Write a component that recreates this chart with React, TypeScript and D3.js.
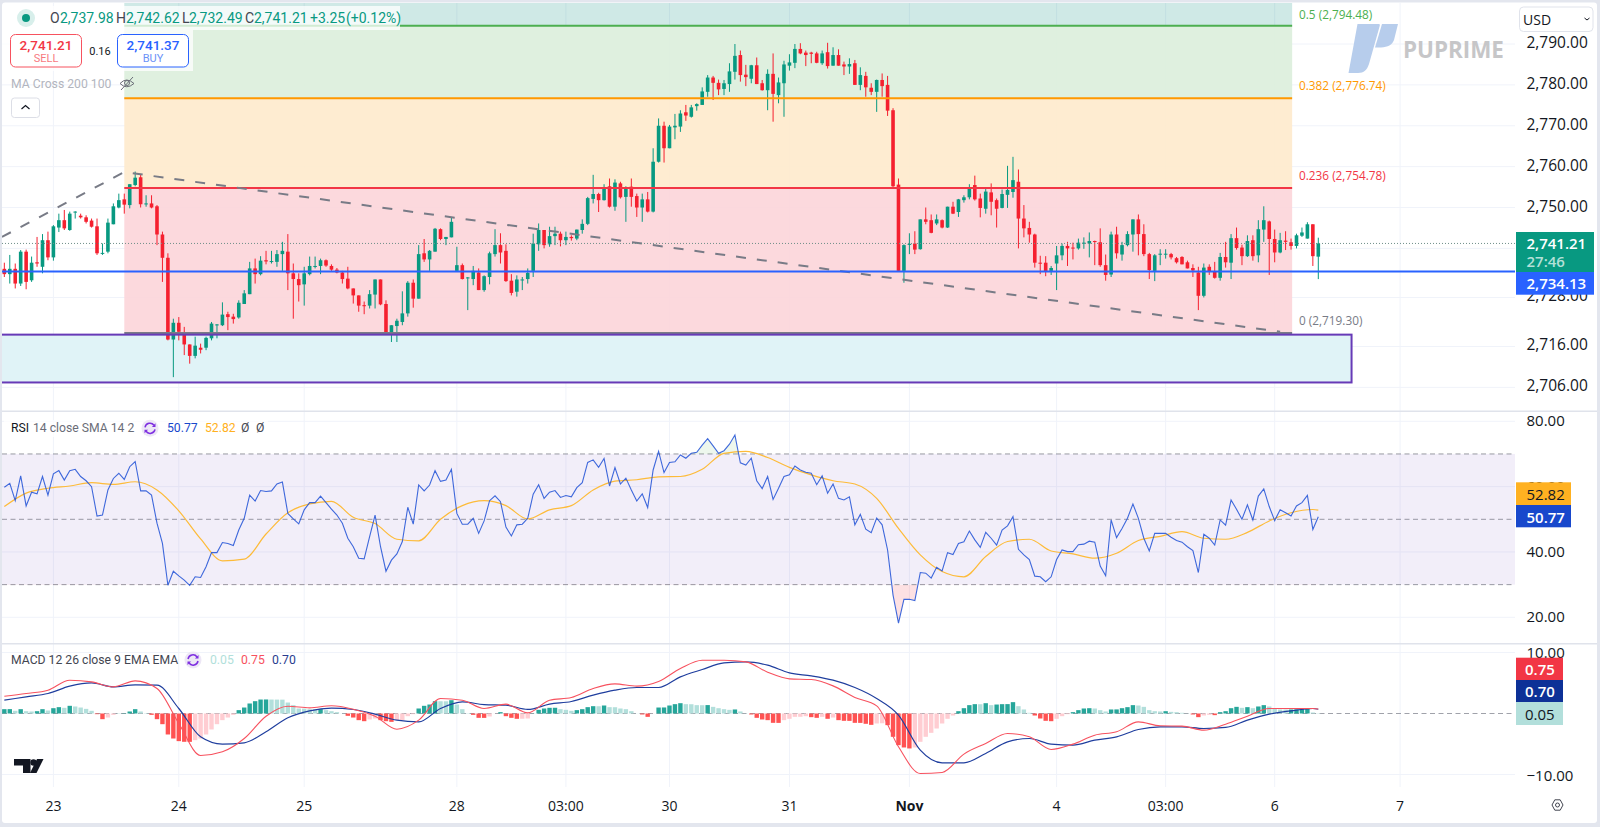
import React from "react";
import * as d3 from "d3";

// hourly XAUUSD bars
const opens = [
  2735.0,2733.7,2735.0,2731.4,2739.2,2732.2,2736.6,2735.5,2742.0,2737.8,
  2745.1,2746.9,2744.5,2748.9,2748.0,2747.6,2746.8,2745.4,2738.8,2739.2,
  2745.9,2750.0,2752.0,2750.6,2755.5,2757.4,2750.8,2751.0,2750.3,2743.4,
  2737.7,2717.7,2721.8,2718.8,2716.5,2713.7,2715.7,2715.7,2718.0,2721.2,
  2721.2,2723.9,2723.3,2723.1,2726.4,2728.8,2735.1,2733.7,2737.1,2736.7,
  2736.7,2738.6,2739.2,2733.9,2732.5,2731.2,2733.7,2735.6,2735.7,2737.1,
  2735.7,2734.8,2734.1,2732.6,2730.2,2728.5,2726.1,2726.0,2728.7,2732.4,
  2726.4,2719.2,2721.0,2722.0,2724.1,2731.6,2727.7,2738.8,2737.3,2739.2,
  2744.7,2742.3,2742.7,2734.5,2735.9,2732.7,2732.5,2734.1,2729.8,2733.0,
  2738.6,2740.8,2739.4,2732.1,2729.4,2732.2,2732.5,2734.5,2741.0,2744.5,
  2741.0,2743.0,2743.6,2742.0,2742.8,2742.4,2744.5,2746.0,2752.1,2753.3,
  2751.8,2755.2,2750.2,2755.9,2752.6,2755.1,2752.8,2750.0,2752.0,2749.0,
  2761.2,2770.0,2764.5,2769.6,2769.8,2773.3,2772.2,2774.8,2775.1,2778.3,
  2781.8,2780.5,2779.0,2780.2,2783.2,2787.3,2782.5,2781.5,2784.8,2780.4,
  2778.7,2782.7,2777.5,2780.4,2784.7,2785.4,2788.8,2787.9,2787.9,2787.7,
  2785.3,2788.0,2784.7,2787.3,2785.0,2784.5,2785.3,2780.0,2782.2,2779.3,
  2778.3,2781.2,2780.0,2773.8,2755.6,2734.5,2741.0,2741.2,2739.8,2747.1,
  2746.9,2746.1,2746.9,2745.1,2750.2,2748.9,2751.8,2752.5,2755.5,2752.2,
  2749.7,2753.7,2751.8,2749.9,2753.1,2753.8,2756.3,2747.3,2745.0,2743.4,
  2736.5,2736.5,2734.5,2736.3,2738.3,2740.6,2740.2,2740.0,2741.2,2741.2,
  2741.8,2741.5,2735.9,2733.6,2743.4,2738.5,2740.8,2743.4,2747.1,2743.5,
  2738.6,2734.5,2738.5,2738.5,2738.6,2737.6,2737.9,2736.6,2735.2,2734.1,
  2728.4,2735.5,2734.3,2732.8,2737.9,2736.5,2742.5,2740.2,2738.1,2742.0,
  2738.3,2744.6,2746.6,2742.3,2739.0,2741.9,2741.5,2740.6,2743.1,2742.4,
  2745.9,2737.98,
];
const highs = [
  2736.5,2738.4,2736.3,2739.6,2739.7,2738.0,2742.8,2743.5,2744.1,2745.7,
  2748.5,2749.4,2749.0,2749.1,2748.5,2748.1,2747.3,2747.3,2741.2,2747.3,
  2751.0,2753.4,2753.4,2755.7,2758.8,2758.0,2753.0,2753.0,2750.6,2744.1,
  2738.8,2722.8,2723.2,2720.8,2716.5,2718.4,2716.7,2718.4,2722.0,2721.5,
  2726.8,2724.5,2724.0,2727.3,2729.8,2736.7,2737.5,2738.1,2739.4,2739.4,
  2739.6,2741.6,2743.5,2736.3,2733.9,2735.5,2738.0,2738.0,2737.5,2737.3,
  2736.1,2735.2,2734.5,2735.5,2730.2,2728.5,2727.0,2729.8,2732.4,2732.4,
  2727.3,2721.2,2722.8,2729.5,2732.0,2732.4,2740.8,2742.3,2739.6,2745.0,
  2744.9,2742.8,2747.7,2740.4,2736.3,2733.0,2735.7,2735.1,2733.4,2739.2,
  2744.7,2743.7,2741.0,2733.7,2733.4,2733.0,2735.1,2743.6,2746.1,2744.5,
  2745.3,2745.3,2744.1,2744.1,2743.2,2744.6,2747.1,2752.6,2758.0,2753.6,
  2755.7,2757.1,2756.9,2756.3,2755.2,2757.1,2753.4,2753.4,2753.8,2764.5,
  2771.8,2771.0,2770.2,2772.9,2773.8,2775.1,2775.1,2775.5,2779.4,2782.4,
  2782.2,2781.3,2781.2,2785.3,2790.0,2788.4,2784.9,2784.9,2786.7,2781.2,
  2783.8,2787.7,2781.8,2785.9,2787.5,2790.0,2790.2,2788.4,2788.1,2788.1,
  2788.4,2790.3,2789.2,2788.7,2785.7,2786.5,2786.1,2784.3,2783.2,2780.4,
  2781.3,2782.8,2782.2,2774.3,2757.1,2741.0,2743.7,2744.2,2747.1,2750.0,
  2748.3,2748.3,2747.1,2750.2,2751.4,2752.1,2753.0,2755.7,2757.8,2753.4,
  2754.9,2755.9,2752.2,2754.4,2760.2,2762.4,2759.3,2750.6,2746.5,2743.6,
  2738.2,2738.1,2735.7,2740.6,2741.2,2741.6,2741.4,2742.4,2742.7,2743.9,
  2741.9,2744.9,2738.5,2744.1,2745.3,2741.6,2744.2,2747.1,2748.3,2745.9,
  2738.9,2738.6,2739.8,2739.8,2738.9,2737.9,2738.1,2737.0,2736.1,2735.5,
  2736.3,2736.1,2736.7,2738.9,2741.6,2743.5,2745.1,2740.9,2743.2,2743.2,
  2746.9,2750.3,2746.8,2744.6,2743.8,2744.2,2742.4,2743.6,2745.1,2746.4,
  2745.9,2742.62,
];
const lows = [
  2733.0,2731.4,2730.2,2730.8,2730.0,2731.8,2735.5,2733.9,2737.1,2737.0,
  2744.0,2744.5,2744.3,2747.3,2747.3,2746.1,2745.1,2738.4,2738.4,2738.8,
  2745.9,2749.8,2748.5,2749.8,2755.2,2750.0,2750.2,2749.8,2740.8,2731.8,
  2717.5,2708.5,2717.5,2713.9,2711.8,2713.1,2714.3,2715.1,2717.5,2718.0,
  2721.0,2720.0,2721.6,2722.8,2726.4,2728.8,2731.4,2733.4,2736.1,2736.3,
  2735.5,2734.5,2729.8,2722.8,2727.0,2726.0,2733.4,2735.1,2733.7,2735.5,
  2734.5,2733.9,2731.4,2730.0,2726.5,2724.5,2723.9,2725.3,2725.3,2726.1,
  2719.2,2717.1,2717.1,2721.2,2723.3,2725.5,2727.7,2736.7,2734.5,2739.2,
  2742.0,2740.8,2742.7,2734.3,2732.4,2724.9,2731.0,2729.8,2729.4,2731.2,
  2738.0,2736.3,2731.8,2728.5,2728.2,2729.8,2731.4,2733.0,2739.4,2740.0,
  2740.4,2740.8,2740.5,2740.8,2741.9,2742.0,2743.6,2745.7,2751.0,2748.9,
  2751.7,2750.0,2749.2,2752.2,2746.5,2750.2,2747.7,2746.5,2748.8,2748.8,
  2761.0,2761.0,2764.5,2766.7,2768.5,2771.2,2772.0,2773.7,2775.1,2777.1,
  2776.3,2777.5,2777.5,2778.3,2781.3,2780.8,2779.7,2780.4,2780.2,2778.6,
  2773.8,2771.0,2775.5,2772.2,2783.5,2784.1,2787.5,2784.6,2785.3,2785.3,
  2784.9,2784.0,2784.7,2784.7,2782.4,2782.7,2780.0,2778.7,2777.1,2777.5,
  2773.4,2777.1,2772.4,2754.9,2734.5,2731.6,2738.6,2738.6,2739.7,2745.9,
  2743.7,2745.7,2744.9,2745.0,2748.4,2747.7,2751.2,2752.0,2751.7,2747.6,
  2748.5,2748.1,2745.1,2749.8,2749.9,2752.4,2740.0,2742.7,2741.4,2735.3,
  2733.7,2733.2,2733.5,2729.8,2737.1,2735.7,2737.3,2739.7,2739.9,2737.8,
  2735.9,2735.5,2732.1,2733.0,2737.5,2737.0,2740.5,2739.2,2738.3,2738.1,
  2732.5,2732.0,2735.9,2737.5,2737.3,2736.3,2736.1,2735.1,2733.0,2724.9,
  2728.0,2733.5,2732.6,2732.1,2735.3,2732.5,2739.7,2735.9,2737.9,2737.0,
  2736.6,2741.6,2733.5,2736.6,2738.8,2739.6,2739.7,2740.0,2742.8,2742.4,
  2735.7,2732.49,
];
const closes = [
  2733.7,2735.0,2731.4,2739.2,2731.8,2736.5,2736.3,2742.0,2737.8,2745.4,
  2746.9,2744.9,2748.5,2749.0,2747.6,2746.5,2745.3,2738.8,2738.9,2746.3,
  2750.3,2751.8,2750.7,2755.7,2757.3,2750.8,2751.0,2750.0,2743.4,2737.7,
  2717.7,2721.8,2719.6,2716.5,2713.7,2716.2,2715.2,2718.1,2721.6,2721.4,
  2723.8,2723.2,2722.7,2726.7,2729.0,2735.1,2733.7,2737.0,2736.8,2736.9,
  2738.6,2739.4,2733.9,2732.5,2731.0,2733.9,2735.7,2735.7,2737.1,2735.8,
  2734.8,2734.1,2732.5,2730.2,2728.5,2726.0,2726.0,2728.8,2732.4,2726.3,
  2719.2,2721.2,2722.3,2724.1,2731.6,2727.7,2738.6,2737.3,2739.4,2744.8,
  2742.3,2742.8,2746.5,2735.9,2732.5,2732.9,2734.5,2729.8,2733.2,2738.8,
  2740.8,2739.0,2732.0,2729.1,2732.4,2732.4,2734.0,2741.2,2744.5,2740.8,
  2743.0,2743.6,2742.0,2742.8,2742.5,2744.6,2746.0,2752.3,2753.3,2751.8,
  2755.0,2750.2,2756.1,2752.5,2754.9,2752.6,2750.0,2752.0,2749.0,2761.2,
  2770.0,2764.5,2769.8,2770.0,2773.0,2772.5,2774.5,2775.3,2778.4,2781.8,
  2780.5,2778.9,2780.4,2783.3,2787.1,2782.4,2781.9,2784.8,2780.2,2778.7,
  2782.7,2777.8,2780.6,2785.0,2785.5,2788.8,2787.7,2787.3,2787.6,2785.4,
  2787.7,2784.6,2787.3,2784.7,2784.5,2785.1,2780.0,2782.4,2779.4,2778.3,
  2781.2,2779.7,2773.7,2755.2,2734.5,2740.8,2741.1,2739.7,2747.1,2746.5,
  2743.8,2747.1,2745.1,2750.2,2748.5,2752.0,2752.5,2754.9,2752.0,2749.9,
  2753.9,2751.4,2749.7,2753.3,2754.3,2756.7,2747.3,2744.9,2743.4,2736.5,
  2736.3,2734.3,2735.2,2738.3,2740.6,2740.0,2740.1,2741.4,2741.4,2741.8,
  2741.6,2735.9,2733.5,2743.4,2738.8,2740.8,2743.5,2747.1,2743.5,2738.6,
  2734.7,2738.3,2738.7,2738.7,2737.8,2736.6,2736.1,2735.1,2734.6,2728.4,
  2735.3,2734.3,2732.8,2737.9,2736.6,2742.5,2740.1,2738.1,2741.8,2738.1,
  2744.7,2746.9,2742.3,2739.0,2742.0,2741.6,2740.6,2743.2,2743.9,2745.9,
  2738.1,2741.21,
];

const rsi = [
  59.8,61.0,55.7,63.3,54.1,58.3,57.8,63.1,57.4,63.9,
  64.9,62.0,64.9,65.3,63.1,61.8,60.0,51.0,51.3,59.0,
  62.5,64.1,62.2,66.1,67.7,58.7,58.7,57.4,48.8,42.6,
  29.8,34.1,32.7,31.4,29.8,32.4,32.2,35.5,39.8,39.8,
  42.9,42.6,42.0,46.7,50.3,57.4,55.6,58.8,58.5,58.7,
  60.8,61.4,51.8,50.1,48.6,52.9,55.1,55.1,57.1,55.1,
  53.1,51.3,48.8,44.2,41.6,38.1,37.9,44.7,51.3,41.6,
  34.1,37.5,39.4,43.2,53.7,48.5,60.5,58.7,60.5,64.9,
  61.6,62.0,65.3,51.8,48.5,48.5,50.3,45.7,49.5,55.7,
  57.2,55.4,47.6,44.9,48.3,48.5,50.3,57.7,60.6,56.4,
  58.3,58.8,56.7,57.3,56.9,59.7,61.2,67.4,68.2,65.9,
  68.6,60.2,65.8,60.8,62.6,59.0,55.6,57.8,53.6,65.1,
  70.8,64.3,67.4,67.6,69.7,68.7,70.2,70.5,72.7,74.7,
  72.5,70.2,71.0,73.0,75.8,67.3,66.6,68.7,61.8,59.4,
  63.1,56.1,59.5,63.1,63.6,66.3,65.1,64.4,64.1,60.6,
  63.3,58.0,60.8,56.4,55.9,56.9,48.3,51.5,47.0,45.9,
  50.4,48.3,40.6,26.8,18.2,25.5,25.5,25.1,33.7,33.5,
  32.0,35.3,34.2,39.8,39.2,42.6,43.1,46.4,43.7,41.4,
  46.0,44.2,42.1,46.7,48.0,50.8,40.8,39.1,37.7,32.6,
  32.4,30.9,32.4,37.7,40.6,40.1,40.1,42.2,42.4,43.3,
  43.0,35.7,32.7,49.8,44.4,47.2,50.3,54.7,50.3,44.2,
  40.3,45.7,45.7,45.7,44.5,43.5,43.0,41.6,40.4,33.7,
  45.4,44.2,42.1,49.8,48.2,55.9,53.1,50.0,54.4,49.8,
  57.1,59.3,53.9,49.6,52.9,52.0,51.0,54.1,55.1,57.3,
  46.9,50.77,
];
// smooth lines read every 4th bar, plus the last bar
const sampleBars = [...d3.range(0, 241, 4), 241];
const rsiMa = [
  53.9,58.0,59.5,60.2,61.2,60.7,61.5,59.0,52.6,44.0,
  37.3,37.8,45.5,52.0,54.7,55.5,50.6,48.7,43.9,43.4,
  50.0,54.2,55.7,54.2,50.1,52.9,54.2,59.0,61.7,62.1,
  63.0,63.1,65.3,70.2,70.8,68.9,65.9,63.6,61.8,60.8,
  56.4,47.2,39.1,34.0,32.4,38.6,43.2,43.9,40.3,39.4,
  38.1,39.6,43.5,44.8,46.2,44.2,43.9,46.0,49.5,52.0,
  53.0,52.82,
];
const macdLine = [
  2.84,3.28,3.82,5.46,5.19,4.37,5.35,4.10,-1.64,-6.88,
  -6.28,-4.10,-0.44,1.20,0.93,1.26,0.71,-0.44,-2.57,-1.09,
  2.46,2.18,0.82,1.53,0.11,2.18,2.62,4.10,4.86,4.48,
  5.24,7.37,8.74,8.74,8.46,6.77,5.68,5.57,4.53,2.62,
  1.26,-5.46,-9.83,-9.66,-6.66,-4.91,-3.28,-3.82,-5.90,-5.02,
  -3.55,-3.00,-1.37,-2.02,-2.07,-2.73,-1.75,-0.44,0.82,0.82,
  0.82,0.75,
];
const signalLine = [
  2.18,2.73,3.28,4.48,5.02,4.37,4.70,4.64,0.82,-3.82,
  -5.02,-4.80,-3.00,-0.71,0.44,0.87,0.66,-0.11,-1.09,-1.37,
  0.82,1.91,1.47,1.37,0.66,1.53,1.97,3.00,3.82,4.26,
  4.26,6.01,7.21,8.30,8.46,7.92,6.66,6.17,5.46,4.26,
  2.46,-0.27,-6.01,-8.08,-8.08,-6.55,-4.64,-4.10,-5.02,-5.19,
  -4.37,-3.82,-2.62,-2.18,-2.18,-2.46,-2.29,-1.09,-0.11,0.44,
  0.82,0.70,
];
const macdHist = [
  0.71,0.72,0.44,0.71,0.38,0.33,0.38,0.71,0.49,0.87,
  1.04,0.93,1.26,1.15,0.98,0.76,0.44,-0.11,-0.93,-0.66,
  -0.22,0.02,0.05,0.33,0.71,0.33,0.05,-0.22,-0.93,-1.75,
  -3.44,-4.10,-4.53,-4.64,-4.65,-4.37,-4.10,-3.44,-2.62,-1.75,
  -1.09,-0.66,-0.22,0.55,0.98,1.64,2.02,2.29,2.30,2.29,
  2.28,2.27,1.80,1.37,0.82,0.80,0.71,0.70,0.72,0.55,
  0.38,0.22,0.02,-0.38,-0.66,-1.09,-1.26,-0.98,-0.82,-1.09,
  -1.26,-1.37,-1.09,-1.08,-0.44,-0.11,0.82,1.26,1.47,2.02,
  2.01,2.00,2.18,1.47,0.71,0.05,-0.22,-0.71,-0.72,-0.49,
  -0.02,0.22,-0.44,-0.71,-0.87,-0.86,-0.82,0.02,0.60,0.82,
  0.93,0.94,0.71,0.60,0.44,0.55,0.71,1.04,1.20,1.19,
  1.31,1.04,1.03,0.82,0.71,0.38,0.02,-0.16,-0.55,-0.02,
  0.98,0.99,1.31,1.53,1.69,1.53,1.52,1.37,1.36,1.38,
  1.09,0.87,0.71,0.60,0.66,0.33,0.02,-0.16,-0.71,-0.98,
  -1.09,-1.53,-1.54,-1.09,-0.87,-0.55,-0.54,-0.44,-0.60,-0.71,
  -0.55,-0.87,-0.66,-1.09,-1.20,-1.21,-1.53,-1.54,-1.69,-1.86,
  -1.64,-1.60,-1.91,-3.82,-5.19,-5.57,-5.73,-5.57,-4.64,-3.82,
  -3.17,-2.46,-1.64,-0.87,-0.33,0.38,0.87,1.37,1.53,1.52,
  1.69,1.37,1.47,1.53,1.54,1.86,1.20,0.66,0.11,-0.33,
  -0.82,-1.20,-1.26,-0.87,-0.44,-0.11,0.22,0.55,0.82,0.87,
  0.82,0.55,0.33,0.66,0.67,0.87,1.04,1.37,1.31,1.09,
  0.55,0.38,0.33,0.38,0.27,0.22,0.11,0.02,-0.16,-0.60,
  -0.33,-0.22,-0.27,0.22,0.38,0.87,1.09,0.93,1.04,0.87,
  1.15,1.37,1.15,0.87,0.66,0.65,0.66,0.67,0.71,0.87,
  0.16,0.05,
];

const priceGrid = [2790, 2780, 2770, 2760, 2750, 2740, 2728, 2716, 2706];
const priceTicks = [2790, 2780, 2770, 2760, 2750, 2728, 2716, 2706]; // 2,740 sits under the last price box
const rsiTicks = [80, 60, 40, 20];
const rsiBands = [70, 50, 30];
const macdTicks = [10, -10];
const timeBars = [9, 32, 55, 83, 103, 122, 144, 166, 193, 213, 233, 256];
const timeLabels = ["23", "24", "25", "28", "03:00", "30", "31", "Nov", "4", "03:00", "6", "7"];

const fibRatios = [0.5, 0.382, 0.236, 0];
const fibPrices = [2794.48, 2776.74, 2754.78, 2719.3];
const fibTop = 2812.2; // next level, off the top of the chart
const fibColors = ["#4caf50", "#ff9800", "#f23645", "#787b86"];
const fibFills = ["#dcefdc", "#feeacd", "#fcd6da"];

const trendBars = [-0.43, 22, 234];
const trendPrices = [2742.8, 2758.67, 2719.6];
const zoneBars = [-2, 247.1];
const zonePrices = [2718.9, 2707.2];
const lastPrice = 2741.21;
const supportLine = 2734.35;

const FONT = "'Open Sans', sans-serif";
const LEGEND_FONT = "Roboto, sans-serif";
const UP = "#089981";
const DOWN = "#f5202f";
const PLOT_R = 1515;

const x = d3.scaleLinear().domain([0, 241]).range([4.33, 1318.3]);
const yP = d3.scaleLinear().domain([2794.48, 2719.3]).range([25.7, 333]);
const yR = d3.scaleLinear().domain([80, 20]).range([421.3, 617.3]);
const yM = d3.scaleLinear().domain([10, -10]).range([652.5, 774.5]);

const fmt = d3.format(",.2f");

function histColor(i: number) {
  const v = macdHist[i];
  const prev = i > 0 ? macdHist[i - 1] : v;
  if (v >= 0) return v >= prev ? "#26a69a" : "#b2dfdb";
  return v <= prev ? "#ff5252" : "#ffcdd2";
}

function Label({ x, y, fill = "#131722", size = 15.5, weight = 400, anchor = "start", family = FONT, children }: any) {
  return (
    <text x={x} y={y} fill={fill} fontSize={size} fontWeight={weight} textAnchor={anchor} dominantBaseline="central" fontFamily={family}>
      {children}
    </text>
  );
}

function LegendText(props: any) {
  return <Label family={LEGEND_FONT} size={12.2} {...props} />;
}

function CycleIcon({ cx, cy }: any) {
  return (
    <g>
      <circle cx={cx} cy={cy} r={8.5} fill="#ede7f6" />
      <path d={`M${cx - 5},${cy - 1} A5,5 0 0 1 ${cx + 4},${cy - 3}`} fill="none" stroke="#7e2fe0" strokeWidth={1.5} />
      <path d={`M${cx + 5},${cy + 1} A5,5 0 0 1 ${cx - 4},${cy + 3}`} fill="none" stroke="#7e2fe0" strokeWidth={1.5} />
      <path d={`M${cx + 5.5},${cy - 5} v3.6 h-3.6 z`} fill="#7e2fe0" />
      <path d={`M${cx - 5.5},${cy + 5} v-3.6 h3.6 z`} fill="#7e2fe0" />
    </g>
  );
}

export default function App() {
  const rsiPath = d3.line<number>().x((_, i) => x(i)).y((d) => yR(d))(rsi) || "";
  const sampled = (vals: number[], y: any) =>
    d3
      .line<number>()
      .x((_, i) => x(sampleBars[i]))
      .y((d) => y(d))
      .curve(d3.curveMonotoneX)(vals) || "";
  const rsiArea = (level: number) =>
    d3.area<number>().x((_, i) => x(i)).y0(yR(level)).y1((d) => yR(d))(rsi) || "";
  const trend = d3
    .line<number>()
    .x((_, i) => x(trendBars[i]))
    .y((d) => yP(d))(trendPrices) || "";

  const fibX0 = x(22);
  const fibX1 = x(236.2);
  const fibEdges = [fibTop, ...fibPrices];
  const bodyW = 3.6;

  return (
    <svg width={1600} height={827} style={{ position: "absolute", left: 0, top: 0, display: "block" }}>
      <defs>
        <clipPath id="plot">
          <rect x={2} y={3} width={PLOT_R - 2} height={408} />
        </clipPath>
        <clipPath id="above70">
          <rect x={2} y={410} width={PLOT_R - 2} height={yR(70) - 410} />
        </clipPath>
        <clipPath id="below30">
          <rect x={2} y={yR(30)} width={PLOT_R - 2} height={640 - yR(30)} />
        </clipPath>
      </defs>
      <rect width={1600} height={827} fill="#e3e6ee" />
      <rect x={2} y={2.5} width={1595} height={820.5} rx={3} fill="#ffffff" />

      {/* grid */}
      {timeBars.map((b, i) => (
        <line key={i} x1={x(b)} x2={x(b)} y1={3} y2={787} stroke="#f0f3fa" />
      ))}
      {priceGrid.map((t) => (
        <line key={t} x1={2} x2={PLOT_R} y1={yP(t)} y2={yP(t)} stroke="#f0f3fa" />
      ))}
      {rsiTicks.map((t) => (
        <line key={t} x1={2} x2={PLOT_R} y1={yR(t)} y2={yR(t)} stroke="#f0f3fa" />
      ))}
      {macdTicks.map((t) => (
        <line key={t} x1={2} x2={PLOT_R} y1={yM(t)} y2={yM(t)} stroke="#f0f3fa" />
      ))}

      {/* price pane */}
      <g clipPath="url(#plot)">
        <rect x={fibX0} y={yP(fibTop)} width={fibX1 - fibX0} height={yP(fibPrices[0]) - yP(fibTop)} fill="#00897b" fillOpacity={0.19} />
        {fibFills.map((c, i) => (
          <rect key={c} x={fibX0} y={yP(fibEdges[i + 1])} width={fibX1 - fibX0} height={yP(fibEdges[i + 2]) - yP(fibEdges[i + 1])} fill={c} fillOpacity={0.92} />
        ))}
        <rect
          x={x(zoneBars[0])}
          y={yP(zonePrices[0])}
          width={x(zoneBars[1]) - x(zoneBars[0])}
          height={yP(zonePrices[1]) - yP(zonePrices[0])}
          fill="#e0f3f7"
        />
        {opens.map((o, i) => {
          const c = closes[i];
          const col = c >= o ? UP : DOWN;
          const top = yP(Math.max(o, c));
          const h = Math.max(yP(Math.min(o, c)) - top, 1);
          return (
            <g key={i} fill={col}>
              <rect x={x(i) - 0.5} y={yP(highs[i])} width={1} height={yP(lows[i]) - yP(highs[i])} />
              <rect x={x(i) - bodyW / 2} y={top} width={bodyW} height={h} />
            </g>
          );
        })}
        {fibPrices.map((p, i) => (
          <line key={p} x1={fibX0} x2={fibX1} y1={yP(p)} y2={yP(p)} stroke={fibColors[i]} strokeWidth={2} />
        ))}
        <rect
          x={x(zoneBars[0])}
          y={yP(zonePrices[0])}
          width={x(zoneBars[1]) - x(zoneBars[0])}
          height={yP(zonePrices[1]) - yP(zonePrices[0])}
          fill="none"
          stroke="#673ab7"
          strokeWidth={2}
        />
        <path d={trend} fill="none" stroke="#787b86" strokeWidth={2} strokeDasharray="10 11" />
        <line x1={2} x2={PLOT_R} y1={yP(lastPrice)} y2={yP(lastPrice)} stroke="#6f8f88" strokeDasharray="1 2" />
        <line x1={2} x2={PLOT_R} y1={yP(supportLine)} y2={yP(supportLine)} stroke="#2962ff" strokeWidth={2} />
      </g>

      {/* fib labels */}
      {fibRatios.map((r, i) => (
        <Label key={r} x={1299} y={yP(fibPrices[i]) - (i === 0 ? 12 : 13)} fill={fibColors[i]} size={11.8}>
          {`${r} (${fmt(fibPrices[i])})`}
        </Label>
      ))}

      {/* watermark */}
      <g fill="#b7cdec">
        <path d="M1357.5,24 H1379 C1380,24 1380,25 1379.7,26 L1369,64 C1367,70 1364,73 1358,73 H1348.5 Z" />
        <path d="M1382,24 H1398 L1394,40 C1392,45 1388,47 1381,47.5 L1375,47.5 Z" />
      </g>
      <Label x={1403} y={49} fill="#c6c6c8" size={22.4} weight={700}>PUPRIME</Label>

      {/* top left legend */}
      <rect x={2} y={6} width={398} height={24} fill="#fff" fillOpacity={0.75} />
      <rect x={2} y={30} width={191} height={41} fill="#fff" fillOpacity={0.75} />
      <circle cx={26} cy={18} r={9} fill="#d8efeb" />
      <circle cx={26} cy={18} r={4} fill={UP} />
      <LegendText x={50} y={18} size={14} fill="#434651">O</LegendText>
      <LegendText x={60} y={18} size={14} fill={UP}>2,737.98</LegendText>
      <LegendText x={116} y={18} size={14} fill="#434651">H</LegendText>
      <LegendText x={126} y={18} size={14} fill={UP}>2,742.62</LegendText>
      <LegendText x={182} y={18} size={14} fill="#434651">L</LegendText>
      <LegendText x={189} y={18} size={14} fill={UP}>2,732.49</LegendText>
      <LegendText x={245} y={18} size={14} fill="#434651">C</LegendText>
      <LegendText x={254} y={18} size={14} fill={UP}>2,741.21</LegendText>
      <LegendText x={310} y={18} size={14} fill={UP}>+3.25</LegendText>
      <LegendText x={346} y={18} size={14} fill={UP}>(+0.12%)</LegendText>

      <rect x={10.5} y={34.5} width={71} height={32.5} rx={5} fill="#fff" stroke="#f7525f" strokeWidth={1} />
      <LegendText x={46} y={44.5} size={13.5} weight={500} fill="#f23645" anchor="middle">2,741.21</LegendText>
      <LegendText x={46} y={58.5} size={11} fill="#f7797f" anchor="middle">SELL</LegendText>
      <LegendText x={100} y={51} size={11} anchor="middle">0.16</LegendText>
      <rect x={117.5} y={34.5} width={71} height={32.5} rx={5} fill="#fff" stroke="#2962ff" strokeWidth={1} />
      <LegendText x={153} y={44.5} size={13.5} weight={500} fill="#2962ff" anchor="middle">2,741.37</LegendText>
      <LegendText x={153} y={58.5} size={11} fill="#6b92f7" anchor="middle">BUY</LegendText>

      <LegendText x={11} y={84} fill="#b2b5be">MA Cross 200 100</LegendText>
      <g fill="none" stroke="#6a6d78" strokeWidth={1}>
        <path d="M120,83.5 Q126.5,76.5 134,83.5 Q126.5,90 120,83.5 Z" />
        <circle cx={127} cy={83} r={2.5} />
        <line x1={121} y1={90} x2={133} y2={77} />
      </g>
      <rect x={11.5} y={98} width={28} height={19.5} rx={3} fill="#fff" stroke="#dcdee6" />
      <path d="M21.5,109 L25.5,105.5 L29.5,109" fill="none" stroke="#131722" strokeWidth={1.2} />

      {/* price axis */}
      <rect x={1519.5} y={7} width={73.5} height={24.5} rx={4} fill="#fff" stroke="#e0e3eb" />
      <Label x={1523} y={19} size={14}>USD</Label>
      <path d="M1584.5,18 L1587,20 L1589.5,18" fill="none" stroke="#131722" />
      {priceTicks.map((t) => (
        <Label key={t} x={1526.5} y={yP(t) - 2}>{fmt(t)}</Label>
      ))}
      <rect x={1516} y={232} width={78} height={40} fill={UP} />
      <Label x={1526.5} y={243} weight={600} size={15} fill="#fff">2,741.21</Label>
      <Label x={1526.5} y={261} weight={600} size={15} fill="#b4e0d8">27:46</Label>
      <rect x={1516} y={272} width={78} height={22.7} fill="#2962ff" />
      <Label x={1526.5} y={283} weight={600} size={15} fill="#fff">2,734.13</Label>

      {/* pane separators */}
      <line x1={2} x2={1597} y1={411.3} y2={411.3} stroke="#e0e3eb" strokeWidth={1.5} />
      <line x1={2} x2={1597} y1={643.7} y2={643.7} stroke="#e0e3eb" strokeWidth={1.5} />

      {/* RSI pane */}
      <rect x={2} y={yR(70)} width={PLOT_R - 2} height={yR(30) - yR(70)} fill="#7e57c2" fillOpacity={0.1} />
      {rsiBands.map((b) => (
        <line key={b} x1={2} x2={PLOT_R} y1={yR(b)} y2={yR(b)} stroke="#787b86" strokeOpacity={0.75} strokeDasharray="5 3.5" />
      ))}
      <path d={rsiArea(70)} clipPath="url(#above70)" fill="#4caf50" fillOpacity={0.1} />
      <path d={rsiArea(30)} clipPath="url(#below30)" fill="#f23645" fillOpacity={0.15} />
      <path d={sampled(rsiMa, yR)} fill="none" stroke="#fdbb39" strokeWidth={1.2} />
      <path d={rsiPath} fill="none" stroke="#1e50d6" strokeWidth={1.1} strokeOpacity={0.85} />

      <rect x={4} y={420} width={264} height={17} fill="#fff" fillOpacity={0.7} />
      <LegendText x={11} y={428.3} fill="#131722">RSI</LegendText>
      <LegendText x={33} y={428.3} fill="#6a6d78">14 close SMA 14 2</LegendText>
      <CycleIcon cx={150} cy={428.3} />
      <LegendText x={167} y={428.3} fill="#1848cc">50.77</LegendText>
      <LegendText x={205} y={428.3} fill="#ffb121">52.82</LegendText>
      <LegendText x={241} y={428.3} fill="#434651">Ø</LegendText>
      <LegendText x={256} y={428.3} fill="#434651">Ø</LegendText>

      {rsiTicks.map((t) => (
        <Label key={t} x={1526.5} y={yR(t) - 1} size={15}>{t.toFixed(2)}</Label>
      ))}
      <rect x={1516} y={482.3} width={55} height={22.7} fill="#ffb121" />
      <Label x={1526.5} y={494} size={15}>52.82</Label>
      <rect x={1516} y={505} width={55} height={22.3} fill="#1848cc" />
      <Label x={1526.5} y={516.5} size={15} weight={600} fill="#fff">50.77</Label>

      {/* MACD pane */}
      <line x1={2} x2={PLOT_R} y1={yM(0)} y2={yM(0)} stroke="#787b86" strokeOpacity={0.7} strokeDasharray="5 3.5" />
      {macdHist.map((v, i) => (
        <rect
          key={i}
          x={x(i) - 2.2}
          y={Math.min(yM(v), yM(0))}
          width={4.4}
          height={Math.abs(yM(v) - yM(0))}
          fill={histColor(i)}
        />
      ))}
      <path d={sampled(signalLine, yM)} fill="none" stroke="#1f3e9e" strokeWidth={1.2} />
      <path d={sampled(macdLine, yM)} fill="none" stroke="#f7525f" strokeWidth={1.1} />

      <LegendText x={11} y={660} fill="#434651">MACD 12 26 close 9 EMA EMA</LegendText>
      <CycleIcon cx={193} cy={660} />
      <LegendText x={210} y={660} fill="#b2dfdb">0.05</LegendText>
      <LegendText x={241} y={660} fill="#f7525f">0.75</LegendText>
      <LegendText x={272} y={660} fill="#2a3d8f">0.70</LegendText>

      <Label x={1526.5} y={652} size={15}>10.00</Label>
      <Label x={1526.5} y={774.5} size={15}>{"\u221210.00"}</Label>
      <rect x={1516} y={657.7} width={47} height={22.3} fill="#f23645" />
      <Label x={1525} y={669} size={15} weight={600} fill="#fff">0.75</Label>
      <rect x={1516} y={680} width={47} height={22} fill="#0d3197" />
      <Label x={1525} y={691} size={15} weight={600} fill="#fff">0.70</Label>
      <rect x={1516} y={702} width={47} height={23} fill="#b2dfdb" />
      <Label x={1525} y={713.5} size={15}>0.05</Label>

      {/* logo and time axis */}
      <g fill="#131722">
        <path d="M14,759 H30.5 V773 H23 V765.5 H14 Z" />
        <circle cx={33.5} cy={762.5} r={3.2} />
        <path d="M37,759 H43.5 L36.5,773 H30 Z" />
      </g>
      {timeBars.map((b, i) => (
        <Label key={i} x={x(b)} y={805} size={14} anchor="middle" weight={timeLabels[i] === "Nov" ? 700 : 400}>
          {timeLabels[i]}
        </Label>
      ))}
      <g fill="none" stroke="#434651" strokeWidth={1}>
        <path d="M1552,805 L1554.8,799.8 H1560.2 L1563,805 L1560.2,810.2 H1554.8 Z" />
        <circle cx={1557.5} cy={805} r={2} />
      </g>
    </svg>
  );
}
